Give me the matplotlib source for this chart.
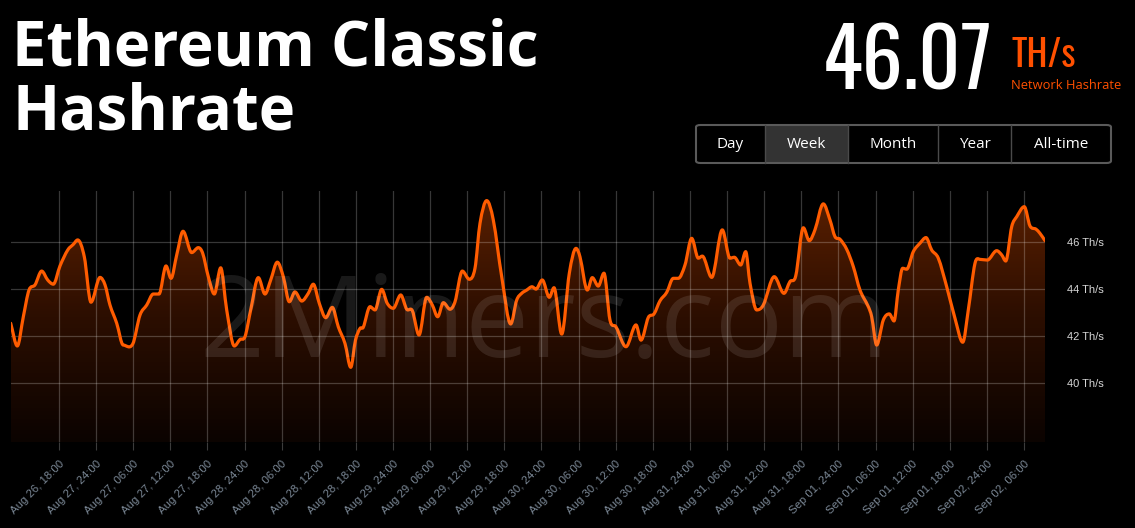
import numpy as np
import matplotlib
matplotlib.use('Agg')
import matplotlib.pyplot as plt
from matplotlib.path import Path
from matplotlib.patches import PathPatch, FancyBboxPatch, Rectangle
from matplotlib.colors import LinearSegmentedColormap

########
# Data #
########

# hours after Aug 26, 18:00
hours = [-7.81, -6.74, -5.77, -4.85, -3.88, -2.80, -1.83, -0.92, 0.16, 1.41,
         2.31, 3.02, 4.09, 5.17, 6.63, 7.44, 8.24, 9.33, 10.39, 11.91,
         13.09, 14.18, 15.24, 16.17, 17.30, 18.11, 19.03, 20.05, 21.45, 22.52,
         23.23, 24.14, 25.11, 26.14, 27.11, 28.34, 29.26, 30.07, 30.99, 32.22,
         33.30, 34.22, 35.29, 36.26, 37.23, 38.15, 39.24, 40.30, 41.11, 42.08,
         43.12, 44.18, 45.15, 46.23, 47.16, 47.93, 48.66, 49.19, 50.28, 51.08,
         52.17, 53.07, 54.04, 55.24, 56.21, 57.12, 58.20, 59.44, 60.35, 61.22,
         62.13, 63.21, 64.02, 65.20, 66.33, 67.25, 68.06, 69.14, 70.21, 71.57,
         73.02, 73.99, 74.80, 75.61, 76.47, 77.11, 78.13, 79.26, 80.02, 81.27,
         82.50, 83.58, 84.22, 85.41, 86.21, 87.18, 88.10, 89.07, 90.04, 91.66,
         93.28, 94.09, 95.27, 96.19, 97.16, 98.24, 99.31, 100.12, 101.20, 102.28,
         103.35, 104.00, 105.52, 107.23, 108.47, 109.17, 110.21, 111.01, 111.71, 112.79,
         113.86, 115.63, 117.20, 118.17, 119.10, 120.33, 121.29, 122.21, 123.56, 124.64,
         125.45, 126.26, 127.34, 128.41, 129.49, 130.83, 131.38, 132.19, 133.26, 134.23,
         134.99, 135.68, 136.39, 137.04, 138.11, 139.19, 140.16, 141.08, 142.15, 143.51,
         144.85, 146.10, 147.00, 148.08, 148.89, 150.07, 151.59, 152.40, 153.05, 154.02,
         154.82, 156.05, 156.97, 157.94, 158.59, 159.40]

hashrate = [42.54, 41.57, 42.82, 43.96, 44.18, 44.77, 44.39, 44.21, 44.99, 45.67,
            45.91, 46.10, 45.38, 43.44, 44.50, 44.18, 43.32, 42.54, 41.61, 41.65,
            42.89, 43.32, 43.79, 43.79, 44.99, 44.46, 45.46, 46.47, 45.56, 45.77,
            45.53, 44.53, 43.79, 44.91, 43.11, 41.57, 41.85, 41.97, 43.11, 44.49,
            43.79, 44.39, 45.15, 44.53, 43.46, 43.88, 43.49, 43.82, 44.21, 43.39,
            42.78, 43.22, 42.39, 41.68, 40.66, 41.82, 42.32, 42.37, 43.25, 43.11,
            43.99, 43.39, 43.18, 43.75, 43.14, 43.08, 42.04, 43.65, 43.32, 42.82,
            43.42, 43.14, 43.46, 44.77, 44.42, 44.89, 46.81, 47.78, 46.95, 44.53,
            42.51, 43.53, 43.82, 43.96, 44.10, 44.00, 44.39, 43.65, 44.06, 42.08,
            44.68, 45.74, 45.38, 43.96, 44.49, 44.13, 44.68, 42.68, 42.39, 41.54,
            42.47, 41.82, 42.79, 42.94, 43.50, 43.86, 44.46, 44.46, 45.03, 46.17,
            45.32, 45.41, 44.50, 46.53, 45.32, 45.36, 45.03, 45.60, 44.25, 43.11,
            43.32, 44.53, 43.82, 44.32, 44.56, 46.62, 46.07, 46.53, 47.64, 46.95,
            46.24, 46.13, 45.70, 44.96, 43.96, 43.25, 42.82, 41.61, 42.68, 42.94,
            42.64, 43.96, 44.89, 44.85, 45.60, 45.96, 46.20, 45.67, 45.32, 44.10,
            42.75, 41.73, 43.11, 45.10, 45.27, 45.24, 45.64, 45.46, 45.20, 46.67,
            47.09, 47.52, 46.70, 46.56, 46.38, 46.07]

tick_hours = list(range(0, 157, 6))
tick_labels = ['Aug 26, 18:00', 'Aug 27, 24:00', 'Aug 27, 06:00', 'Aug 27, 12:00',
               'Aug 27, 18:00', 'Aug 28, 24:00', 'Aug 28, 06:00', 'Aug 28, 12:00',
               'Aug 28, 18:00', 'Aug 29, 24:00', 'Aug 29, 06:00', 'Aug 29, 12:00',
               'Aug 29, 18:00', 'Aug 30, 24:00', 'Aug 30, 06:00', 'Aug 30, 12:00',
               'Aug 30, 18:00', 'Aug 31, 24:00', 'Aug 31, 06:00', 'Aug 31, 12:00',
               'Aug 31, 18:00', 'Sep 01, 24:00', 'Sep 01, 06:00', 'Sep 01, 12:00',
               'Sep 01, 18:00', 'Sep 02, 24:00', 'Sep 02, 06:00']
y_ticks = [40, 42, 44, 46]
buttons = ['Day', 'Week', 'Month', 'Year', 'All-time']
current = '46.07'

#############
# Functions #
#############

def smooth_path(x, y):
    # spline through the points, drawn as cubic bezier segments
    x = np.asarray(x, float)
    y = np.asarray(y, float)
    n = len(x)
    m = np.zeros(n)
    m[0] = (y[1]-y[0])/(x[1]-x[0])
    m[-1] = (y[-1]-y[-2])/(x[-1]-x[-2])
    for i in range(1, n-1):
        if (y[i]-y[i-1])*(y[i+1]-y[i]) <= 0:
            m[i] = 0
        else:
            m[i] = (y[i+1]-y[i-1])/(x[i+1]-x[i-1])
    verts = [(x[0], y[0])]
    codes = [Path.MOVETO]
    for i in range(n-1):
        dx = x[i+1]-x[i]
        verts += [(x[i]+dx/3, y[i]+m[i]*dx/3), (x[i+1]-dx/3, y[i+1]-m[i+1]*dx/3), (x[i+1], y[i+1])]
        codes += [Path.CURVE4]*3
    return verts, codes

########
# Plot #
########

W, H = 1135, 528
fig = plt.figure(figsize=(W/100, H/100), dpi=100)
fig.patch.set_facecolor('black')

ymin, ymax = 37.47, 48.19
xmin, xmax = hours[0], hours[-1]
ax = fig.add_axes([10.7/W, 1-442/H, (1045-10.7)/W, (442-191)/H])
ax.set_facecolor('black')
ax.set_xlim(xmin, xmax)
ax.set_ylim(ymin, ymax)

orange = '#ff5c00'
verts, codes = smooth_path(hours, hashrate)
line_path = Path(verts, codes)
ax.add_patch(PathPatch(line_path, facecolor='none', edgecolor=orange, lw=2.3, zorder=3,
                       capstyle='round', joinstyle='round'))

fverts = verts + [(xmax, ymin), (xmin, ymin), (xmin, ymin)]
fcodes = codes + [Path.LINETO, Path.LINETO, Path.CLOSEPOLY]
clip = PathPatch(Path(fverts, fcodes), facecolor='none', edgecolor='none')
ax.add_patch(clip)
cmap = LinearSegmentedColormap.from_list('fill', ['#0b0300', '#2c0e00', '#5c2000'])
grad = ax.imshow(np.linspace(0, 1, 256).reshape(-1, 1), cmap=cmap, origin='lower',
                 extent=[xmin, xmax, ymin, ymax], aspect='auto', zorder=1)
grad.set_clip_path(clip)

# watermark
fig.text(544/W, 1-357/H, '2Miners.com', family='Open Sans', fontsize=82, color='white',
         alpha=0.1, ha='center', va='baseline', zorder=2)

ax.set_axisbelow('line')
ax.grid(True, color='#ffffff', alpha=0.22, lw=0.9)
for s in ax.spines.values():
    s.set_visible(False)

ax.set_xticks(tick_hours)
ax.set_xticklabels(tick_labels, rotation=45, ha='right', rotation_mode='anchor',
                   family='Liberation Sans', fontsize=8.2, color='#7b8896')
ax.tick_params(axis='x', length=6, color='#3c3c3c', pad=6)

ax.yaxis.tick_right()
ax.set_yticks(y_ticks)
ax.set_yticklabels([str(v)+' Th/s' for v in y_ticks], family='Liberation Sans', fontsize=8, color='#d6d6d6')
ax.tick_params(axis='y', length=0, pad=16)

# header
fig.text(12/W, 1-66/H, 'Ethereum Classic', family='Open Sans', weight='bold', fontsize=44.5,
         color='white', va='baseline')
fig.text(12/W, 1-130/H, 'Hashrate', family='Open Sans', weight='bold', fontsize=44.5,
         color='white', va='baseline')

fig.text(993/W, 1-90/H, current, family='Oswald', fontsize=59,
         color='white', ha='right', va='baseline')
fig.text(1011/W, 1-67/H, 'TH/s', family='Oswald', fontsize=27,
         color='#ff5000', va='baseline')
fig.text(1011/W, 1-89/H, 'Network Hashrate', family='Open Sans', fontsize=9.3,
         color='#ff5000', va='baseline')

# range buttons
edges = [696, 765, 848, 938, 1011, 1111]
fig.patches.append(Rectangle((766/W, 1-163/H), 82/W, 38/H, transform=fig.transFigure,
                             facecolor='#333333', edgecolor='none'))
fig.patches.append(FancyBboxPatch((696/W, 1-163/H), 415/W, 38/H, transform=fig.transFigure,
                                  boxstyle='round,pad=0,rounding_size=0.004',
                                  facecolor='none', edgecolor='#5a5a5a', lw=1.5))
for e in edges[1:-1]:
    fig.lines.append(plt.Line2D([e/W, e/W], [1-163/H, 1-125/H], transform=fig.transFigure,
                                color='#4a4a4a', lw=1))
for i, b in enumerate(buttons):
    cx = (edges[i]+edges[i+1])/2
    fig.text(cx/W, 1-145/H, b, family='Open Sans', fontsize=11, color='white',
             ha='center', va='center')

fig.savefig('out.png', dpi=100, facecolor='black')
